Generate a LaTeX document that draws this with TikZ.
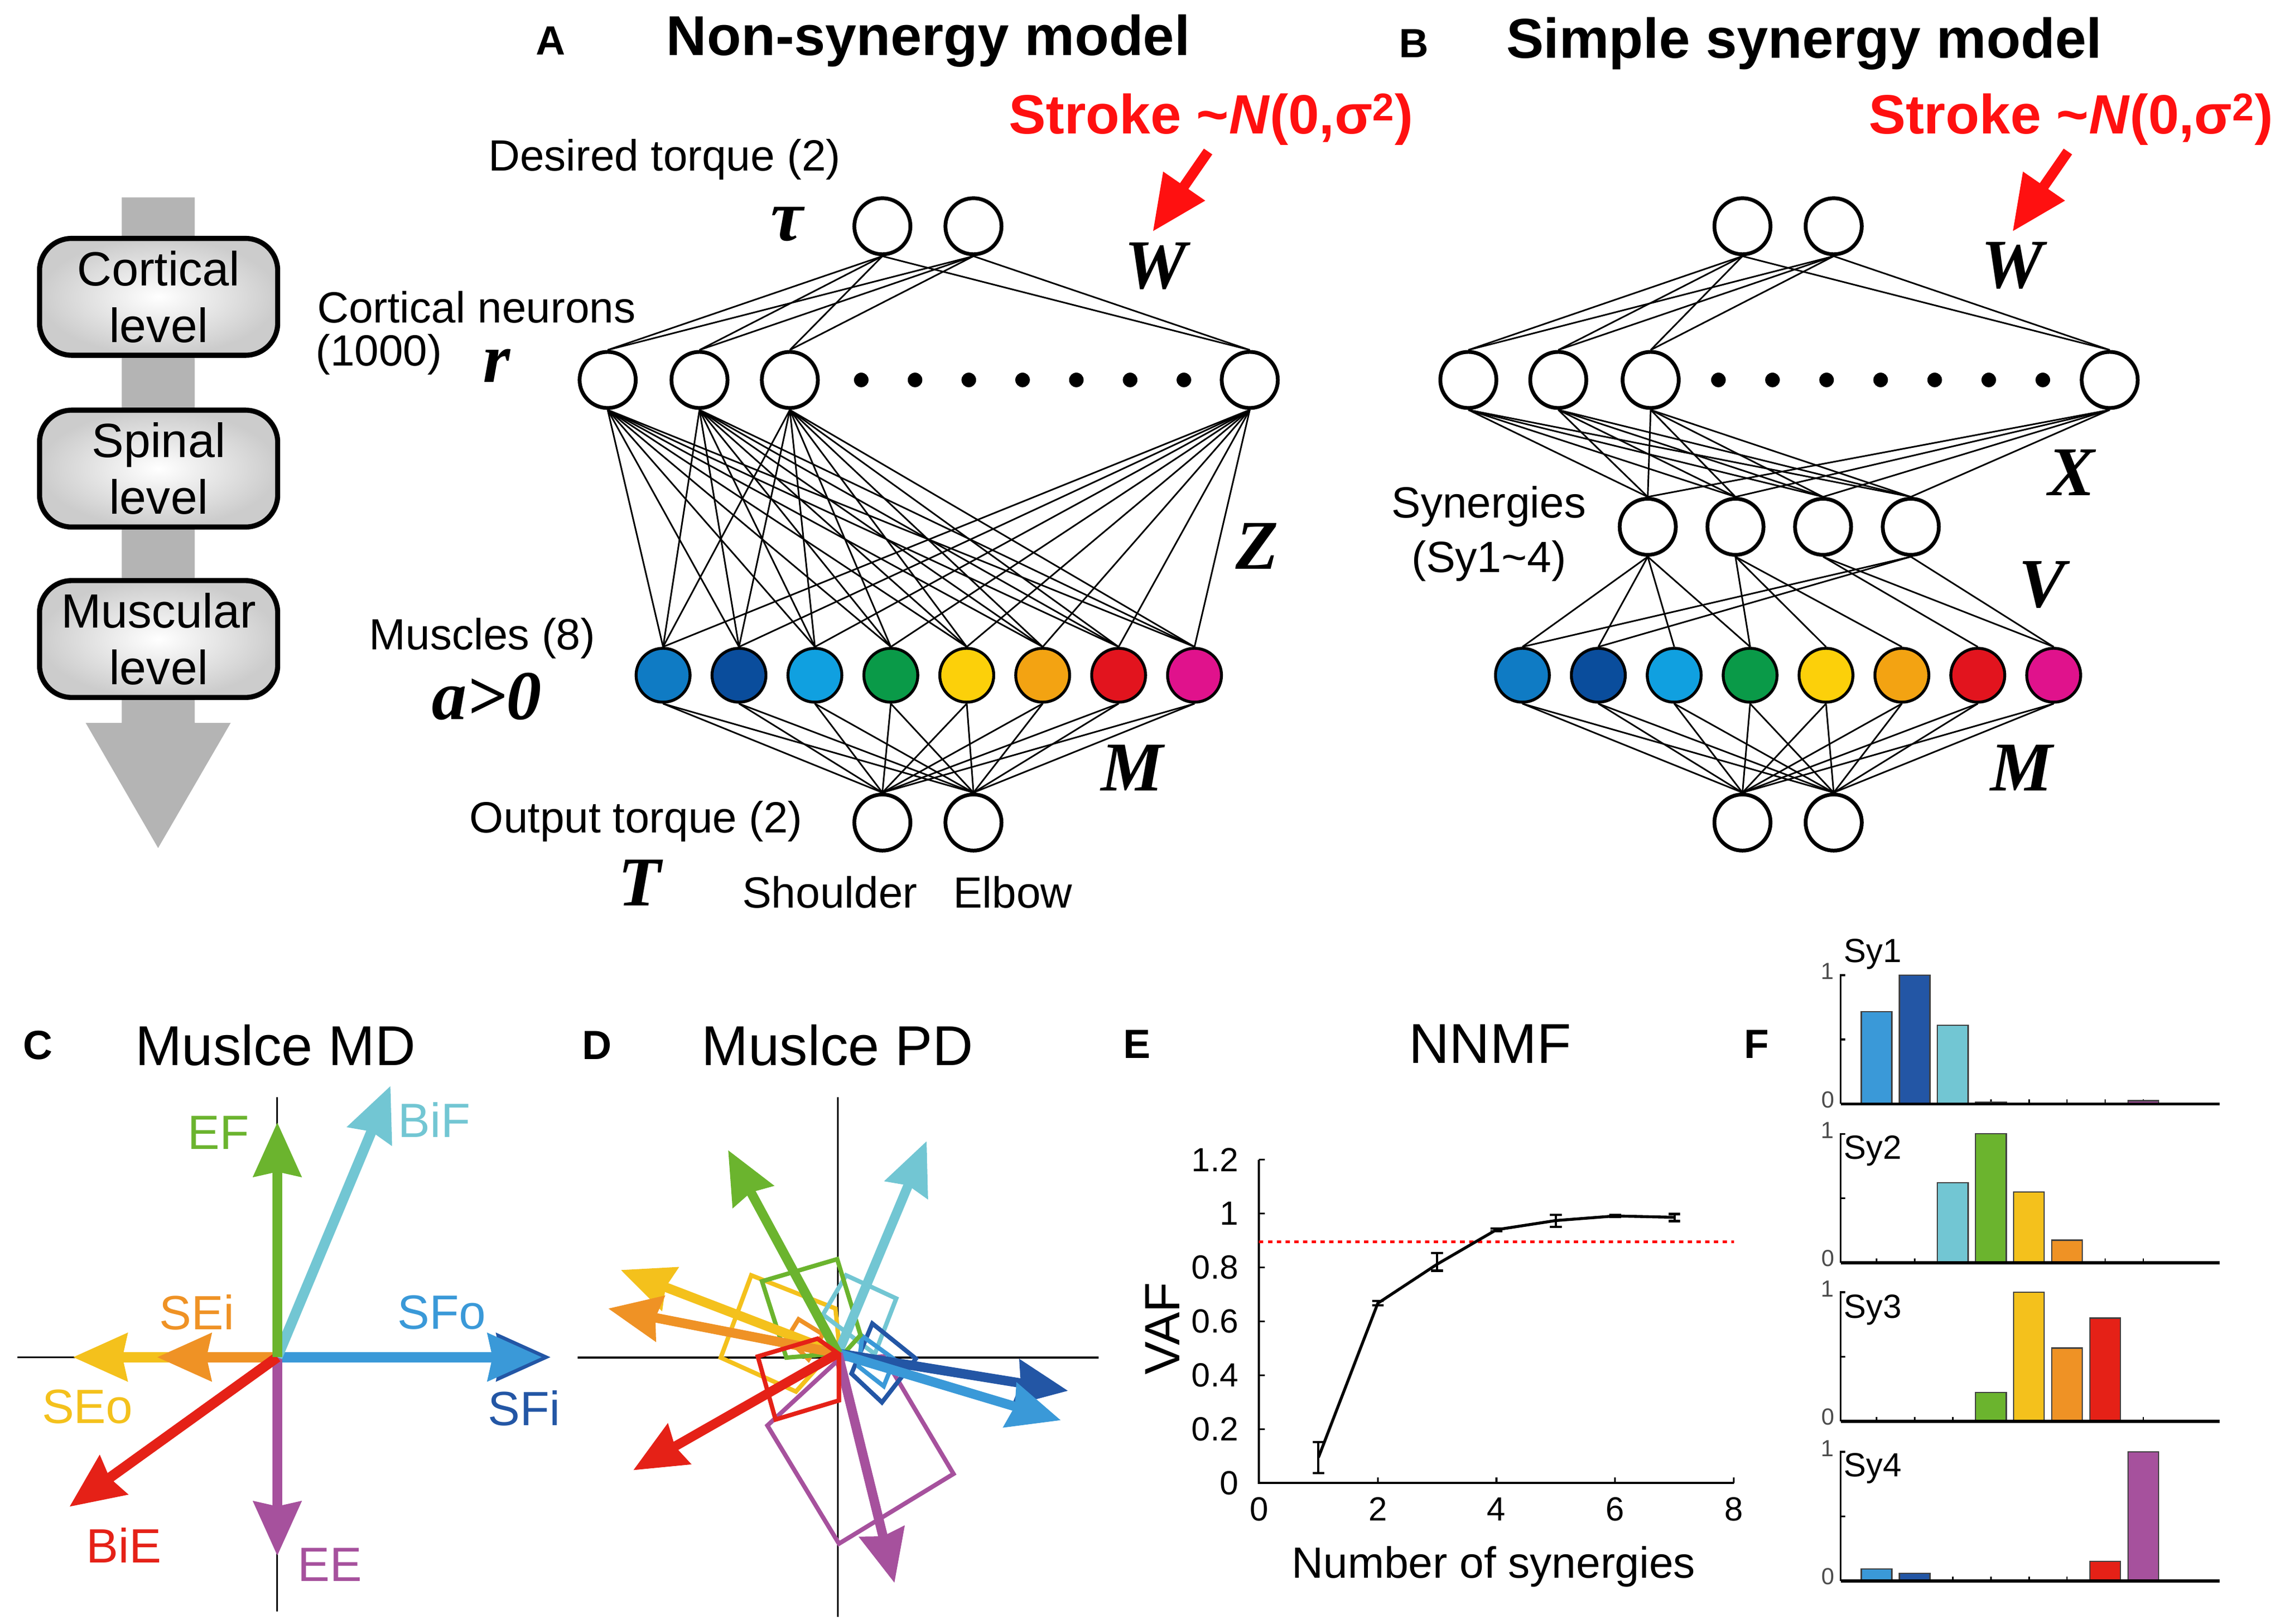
\documentclass[tikz,border=0pt]{standalone}
\usepackage{fontspec}
\setmainfont{Liberation Sans}
\newfontfamily\timesf{Liberation Serif}
\usetikzlibrary{arrows.meta,backgrounds}
\definecolor{mu1}{HTML}{0F7BC4}
\definecolor{mu2}{HTML}{0A4D9C}
\definecolor{mu3}{HTML}{10A0E0}
\definecolor{mu4}{HTML}{0A9A48}
\definecolor{mu5}{HTML}{FCD00A}
\definecolor{mu6}{HTML}{F3A312}
\definecolor{mu7}{HTML}{E2141E}
\definecolor{mu8}{HTML}{E0128C}
\definecolor{cSFo}{HTML}{3A99D8}
\definecolor{cSFi}{HTML}{2356A5}
\definecolor{cBiF}{HTML}{72C6D3}
\definecolor{cEF}{HTML}{6BB42E}
\definecolor{cSEo}{HTML}{F4C11C}
\definecolor{cSEi}{HTML}{EF9225}
\definecolor{cBiE}{HTML}{E52117}
\definecolor{cEE}{HTML}{A6519D}
\definecolor{strokered}{HTML}{FF1010}
\definecolor{arrowgray}{HTML}{B4B4B4}
\tikzset{
 neuron/.style={circle,draw,line width=2.6pt,minimum size=38.5pt,inner sep=0pt,fill=white},
 muscle/.style={circle,draw,line width=2pt,minimum size=37pt,inner sep=0pt},
 conn/.style={line width=1.1pt},
 lab/.style={font=\fontsize{30}{36}\selectfont,inner sep=0pt},
 titlelab/.style={font=\fontsize{38.5}{46}\selectfont\bfseries,inner sep=0pt},
 plainttl/.style={font=\fontsize{38.5}{46}\selectfont,inner sep=0pt},
 plabel/.style={font=\fontsize{28}{34}\selectfont\bfseries,inner sep=0pt},
 mathlab/.style={font=\fontsize{48}{56}\selectfont\timesf\bfseries\itshape,inner sep=0pt},
 dotn/.style={circle,fill,inner sep=0pt,minimum size=10pt},
 levelbox/.style={draw,line width=3.5pt,rounded corners=22pt,minimum width=163.4pt,minimum height=80.2pt,inner color=white,outer color=black!20,font=\fontsize{33}{38.7}\selectfont,align=center,inner sep=0pt},
 strokelab/.style={font=\fontsize{38}{46}\selectfont\bfseries,text=strokered,inner sep=0pt},
 strokearrow/.style={line width=7pt,draw=strokered,-{Triangle[length=38pt,width=33pt]}},
 bigarrow/.style={line width=7pt,-{Stealth[length=37pt,width=32pt,inset=3pt]}},
 pdarrow/.style={line width=6.5pt,-{Stealth[length=36pt,width=31pt,inset=3pt]}},
 pdquad/.style={line width=3pt},
 arrlab/.style={font=\fontsize{33}{40}\selectfont,inner sep=0pt},
 axisline/.style={line width=1.2pt},
 ticklab/.style={font=\fontsize{23}{28}\selectfont,inner sep=0pt},
 barline/.style={draw=black!75,line width=0.9pt},
 sylab/.style={font=\fontsize{23}{27}\selectfont,inner sep=0pt},
 smalllab/.style={font=\fontsize{16}{19}\selectfont,text=black!70,inner sep=0pt}
}
\begin{document}
\begin{tikzpicture}[x=1pt,y=-1pt]
\begin{scope}[on background layer]
\fill[white] (0,0) rectangle (1568,1114.4);
\end{scope}
\useasboundingbox (0,0) rectangle (1568,1114.4);

% ---------------- left level column ----------------
\fill[arrowgray] (83.5,135.5) -- (133.6,135.5) -- (133.6,496.2) -- (158.3,496.2) -- (108.5,582.1) -- (58.8,496.2) -- (83.5,496.2) -- cycle;
\node[levelbox] (cort) at (108.85,203.75) {Cortical\\level};
\node[levelbox] (spin) at (108.85,321.65) {Spinal\\level};
\node[levelbox] (musc) at (108.85,438.65) {Muscular\\level};

% ---------------- panel A ----------------
\node[plabel] (labA) at (378,28) {A};
\node[titlelab] (titA) at (637,28) {Non-synergy model};
\node[strokelab,anchor=east] (strA) at (970,82) {Stroke \textasciitilde\textit{N}(0,σ\textsuperscript{2})};
\node[lab] (desA) at (456,109.5) {Desired torque (2)};
\node[mathlab,font=\fontsize{50}{56}\selectfont\timesf\bfseries\itshape,text height=22pt,text depth=2pt] (tauA) at (540,155) {τ};
\node[mathlab] (WA) at (793,182.5) {W};
\node[lab] (cnA) at (327,211) {Cortical neurons};
\node[lab] (cnnA) at (260,243.4) {(1000)};
\node[mathlab] (rA) at (341,251) {r};
\node[mathlab] (ZA) at (862.7,375) {Z};
\node[lab] (muA) at (331,438) {Muscles (8)};
\node[mathlab] (aA) at (334,478) {a>0};
\node[mathlab] (MA) at (777,527) {M};
\node[lab] (otA) at (436.5,563.8) {Output torque (2)};
\node[mathlab] (TA) at (439,606) {T};
\node[lab] (shA) at (569.5,612.5) {Shoulder};
\node[lab] (elA) at (695,612.5) {Elbow};
\coordinate (stkA0) at (829,104);
\coordinate (stkA1) at (791,159);
\draw[strokearrow] (stkA0) -- (stkA1);

\node[neuron] (At1) at (605.5,155.3) {};
\node[neuron] (At2) at (668,155.3) {};
\foreach \i/\x in {1/417,2/480,3/542,4/857.6} \node[neuron] (Ac\i) at (\x,260.8) {};
\foreach \i in {0,...,6} \node[dotn] (Ad\i) at ({591+36.9*\i},260.8) {};
\foreach \i/\c in {1/mu1,2/mu2,3/mu3,4/mu4,5/mu5,6/mu6,7/mu7,8/mu8} \node[muscle,fill=\c] (Am\i) at ({455+52.1*(\i-1)},463.5) {};
\node[neuron] (Ao1) at (605.5,564.6) {};
\node[neuron] (Ao2) at (668,564.6) {};
\begin{scope}[on background layer]
\foreach \i in {1,2} \foreach \j in {1,...,4} \draw[conn] (At\i.south) -- (Ac\j.north);
\foreach \i in {1,...,4} \foreach \j in {1,...,8} \draw[conn] (Ac\i.south) -- (Am\j.north);
\foreach \j in {1,...,8} \foreach \k in {1,2} \draw[conn] (Am\j.south) -- (Ao\k.north);
\end{scope}

% ---------------- panel B ----------------
\node[plabel] (labB) at (970.4,30) {B};
\node[titlelab] (titB) at (1238,30) {Simple synergy model};
\node[strokelab,anchor=east] (strB) at (1560,82) {Stroke \textasciitilde\textit{N}(0,σ\textsuperscript{2})};
\node[mathlab] (WB) at (1381,182.4) {W};
\node[mathlab] (XB) at (1421.4,324.3) {X};
\node[lab] (syB) at (1021.6,347.5) {Synergies};
\node[lab] (sysB) at (1021.7,385.2) {(Sy1\textasciitilde 4)};
\node[mathlab] (VB) at (1401.2,401.4) {V};
\node[mathlab] (MB) at (1387.1,527) {M};
\coordinate (stkB0) at (1419,104);
\coordinate (stkB1) at (1381,159);
\draw[strokearrow] (stkB0) -- (stkB1);

\node[neuron] (Bt1) at (1195.7,155.3) {};
\node[neuron] (Bt2) at (1258.3,155.3) {};
\foreach \i/\x in {1/1007.6,2/1069.3,3/1132.7,4/1447.7} \node[neuron] (Bc\i) at (\x,260.8) {};
\foreach \i in {0,...,6} \node[dotn] (Bd\i) at ({1179.2+37.1*\i},260.8) {};
\foreach \i/\x in {1/1130.7,2/1190.9,3/1251,4/1311.2} \node[neuron] (Bs\i) at (\x,361.6) {};
\foreach \i/\c in {1/mu1,2/mu2,3/mu3,4/mu4,5/mu5,6/mu6,7/mu7,8/mu8} \node[muscle,fill=\c] (Bm\i) at ({1044.7+52.08*(\i-1)},463.5) {};
\node[neuron] (Bo1) at (1195.7,564.6) {};
\node[neuron] (Bo2) at (1258.3,564.6) {};
\begin{scope}[on background layer]
\foreach \i in {1,2} \foreach \j in {1,...,4} \draw[conn] (Bt\i.south) -- (Bc\j.north);
\foreach \i in {1,...,4} \foreach \j in {1,...,4} \draw[conn] (Bc\i.south) -- (Bs\j.north);
\foreach \s/\m in {1/1,1/2,1/3,1/4,2/4,2/5,2/6,3/7,3/8,4/1,4/2,4/8} \draw[conn] (Bs\s.south) -- (Bm\m.north);
\foreach \j in {1,...,8} \foreach \k in {1,2} \draw[conn] (Bm\j.south) -- (Bo\k.north);
\end{scope}

% ---------------- panel C ----------------
\node[plabel] (labC) at (26,717.5) {C};
\node[plainttl] (titC) at (189,717.5) {Muslce MD};
\coordinate (Cax1) at (12,931.6);
\coordinate (Cax2) at (375,931.6);
\coordinate (Cay1) at (190.3,753);
\coordinate (Cay2) at (190.3,1106);
\draw[axisline] (Cax1) -- (Cax2);
\draw[axisline] (Cay1) -- (Cay2);
\coordinate (CO) at (190.3,931.6);
\coordinate (CtEF) at (190.3,770.3);
\coordinate (CtBiF) at (268,745.3);
\coordinate (CtSEo) at (50,931.6);
\coordinate (CtSEi) at (107.7,931.6);
\coordinate (CtSFi) at (378,931.6);
\coordinate (CtSFo) at (372,931.6);
\coordinate (CtBiE) at (47.6,1034.3);
\coordinate (CtEE) at (190.3,1068);
\draw[bigarrow,cSEo] (CO) -- (CtSEo);
\draw[bigarrow,cSEi] (CO) -- (CtSEi);
\draw[bigarrow,cSFi] (CO) -- (CtSFi);
\draw[bigarrow,cSFo] (CO) -- (CtSFo);
\draw[bigarrow,cEE] (CO) -- (CtEE);
\draw[bigarrow,cBiE] (CO) -- (CtBiE);
\draw[bigarrow,cBiF] (CO) -- (CtBiF);
\draw[bigarrow,cEF] (CO) -- (CtEF);
\foreach \n/\x/\y/\c in {EF/150/777.6/cEF,BiF/298/768.8/cBiF,SEi/135/900.8/cSEi,SFo/303/900.8/cSFo,SEo/60/965.4/cSEo,SFi/359.6/966.8/cSFi,BiE/85/1060.7/cBiE,EE/226.4/1073.9/cEE}
  \node[arrlab,text=\c] (CL\n) at (\x,\y) {\n};

% ---------------- panel D ----------------
\node[plabel] (labD) at (409.7,717.5) {D};
\node[plainttl] (titD) at (574.7,717.5) {Muslce PD};
\coordinate (Dax1) at (396.4,931.9);
\coordinate (Dax2) at (753.8,931.9);
\coordinate (Day1) at (575,753.3);
\coordinate (Day2) at (575,1110);
\draw[axisline] (Dax1) -- (Dax2);
\draw[axisline] (Day1) -- (Day2);
\draw[pdquad,cEE] (526.6,978.5) -- (575.7,933.1) -- (606.4,931.1) -- (654.3,1011.7) -- (575.7,1059.6) -- cycle;
\draw[pdquad,cSEo] (494.6,931.9) -- (515.5,875.4) -- (573.3,898.2) -- (575.7,922) -- (546.2,955.2) -- cycle;
\draw[pdquad,cBiF] (564.7,902.4) -- (580.6,875.4) -- (615,891.3) -- (600.3,929.4) -- cycle;
\draw[pdquad,cSFi] (598.6,908.5) -- (628.5,932.6) -- (605.2,962.6) -- (584.3,942.9) -- cycle;
\draw[pdquad,cSFo] (591.7,917.1) -- (613.8,933.1) -- (606.4,951.5) -- (589.2,938) -- cycle;
\draw[pdquad,cSEi] (540.1,918.4) -- (548,905.6) -- (564.7,915.9) -- (554.8,933.1) -- cycle;
\draw[pdquad,cEF] (522.9,879.5) -- (574.5,864.3) -- (590.5,916.4) -- (579.4,928.7) -- (539.6,931.9) -- cycle;
\coordinate (DO) at (575,929);
\coordinate (DtSEo) at (425.9,871.7);
\coordinate (DtSEi) at (417.3,898.2);
\coordinate (DtBiF) at (635.9,783.2);
\coordinate (DtSFi) at (733,954.7);
\coordinate (DtSFo) at (728,974.9);
\coordinate (DtEE) at (613.8,1086.6);
\coordinate (DtEF) at (499.6,789.4);
\coordinate (DtBiE) at (434.5,1009.2);
\draw[pdarrow,cSEo] (DO) -- (DtSEo);
\draw[pdarrow,cSEi] (DO) -- (DtSEi);
\draw[pdarrow,cBiF] (DO) -- (DtBiF);
\draw[pdarrow,cSFi] (DO) -- (DtSFi);
\draw[pdarrow,cSFo] (DO) -- (DtSFo);
\draw[pdarrow,cEE] (DO) -- (DtEE);
\draw[pdarrow,cEF] (DO) -- (DtEF);
\draw[pdquad,cBiE] (520,931.1) -- (561,918.9) -- (575.7,929.4) -- (575.7,961.3) -- (532.2,974.4) -- cycle;
\draw[pdarrow,cBiE] (DO) -- (DtBiE);

% ---------------- panel E ----------------
\node[plabel] (labE) at (780.3,716.6) {E};
\node[plainttl] (titE) at (1022.5,716.6) {NNMF};
\coordinate (Etop) at (864,796);
\coordinate (EO) at (864,1018);
\coordinate (Eright) at (1189.8,1018);
\draw[line width=1.5pt] (Etop) -- (EO) -- (Eright);
\foreach \k/\v/\t in {0/0/0,1/0.2/0.2,2/0.4/0.4,3/0.6/0.6,4/0.8/0.8,5/1/1,6/1.2/1.2} {
  \draw[line width=1.2pt] (864,{1018-185*\v}) -- ++(4,0);
  \node[ticklab,anchor=east] (Ey\k) at (850,{1018-185*\v}) {\t};
}
\foreach \k in {0,2,4,6,8} {
  \draw[line width=1.2pt] ({864+40.72*\k},1018) -- ++(0,-4);
  \node[ticklab] (Ex\k) at ({864+40.72*\k},1036) {\k};
}
\node[font=\fontsize{34}{40}\selectfont,inner sep=0pt,rotate=90] (Evaf) at (797.6,912) {VAF};
\node[lab] (Exl) at (1025,1075.3) {Number of synergies};
\coordinate (Eth1) at (864,852.5);
\coordinate (Eth2) at (1189.8,852.5);
\draw[red,line width=2pt,dash pattern=on 3pt off 3pt] (Eth1) -- (Eth2);
\foreach \k/\v in {1/0.095,2/0.667,3/0.812,4/0.94,5/0.974,6/0.991,7/0.986}
  \coordinate (E\k) at ({864+40.72*\k},{1018-185*\v});
\draw[line width=2pt,line join=round] (E1) -- (E2) -- (E3) -- (E4) -- (E5) -- (E6) -- (E7);
\foreach \k/\lo/\hi in {1/0.037/0.152,2/0.659/0.675,3/0.788/0.854,4/0.935/0.945,5/0.95/0.995,6/0.988/0.994,7/0.972/0.998} {
  \draw[line width=1.6pt] ({864+40.72*\k},{1018-185*\lo}) -- ({864+40.72*\k},{1018-185*\hi});
  \draw[line width=1.6pt] ({864+40.72*\k-4},{1018-185*\lo}) -- ({864+40.72*\k+4},{1018-185*\lo});
  \draw[line width=1.6pt] ({864+40.72*\k-4},{1018-185*\hi}) -- ({864+40.72*\k+4},{1018-185*\hi});
}

% ---------------- panel F ----------------
\node[plabel] (labF) at (1205.5,716.6) {F};
\foreach \k/\base/\sy in {1/757.8/655,2/866.8/790,3/975.5/899,4/1085.1/1008} {
  \draw[line width=1.3pt] (1263.1,\base) -- (1263.1,{\base-88.5}) -- ++(3,0);
  \draw[line width=1.3pt] (1263.1,{\base-44.25}) -- ++(3,0);
  \foreach \i in {1,...,8} \draw[line width=1pt] ({1287.7+26.15*(\i-1)},\base) -- ++(0,-3);
  \node[sylab] (Fsy\k) at (1285,\sy) {Sy\k};
  \node[smalllab] (Fone\k) at (1254,{\base-91}) {1};
  \node[smalllab] (Fzero\k) at (1254.5,{\base-3}) {0};
}
\foreach \i/\v/\c in {1/0.717/cSFo,2/1/cSFi,3/0.61/cBiF,4/0.015/cEF,8/0.025/cEE}
  \draw[barline,fill=\c] ({1277.2+26.15*(\i-1)},757.8) rectangle ++(21,{-88.5*\v});
\foreach \i/\v/\c in {3/0.62/cBiF,4/1/cEF,5/0.55/cSEo,6/0.176/cSEi}
  \draw[barline,fill=\c] ({1277.2+26.15*(\i-1)},866.8) rectangle ++(21,{-88.5*\v});
\foreach \i/\v/\c in {4/0.222/cEF,5/1/cSEo,6/0.566/cSEi,7/0.8/cBiE}
  \draw[barline,fill=\c] ({1277.2+26.15*(\i-1)},975.5) rectangle ++(21,{-88.5*\v});
\foreach \i/\v/\c in {1/0.093/cSFo,2/0.059/cSFi,7/0.152/cBiE,8/1/cEE}
  \draw[barline,fill=\c] ({1277.2+26.15*(\i-1)},1085.1) rectangle ++(21,{-88.5*\v});
\foreach \base in {757.8,866.8,975.5,1085.1}
  \draw[line width=2.2pt] (1263.1,\base) -- (1523,\base);
\end{tikzpicture}
\end{document}
